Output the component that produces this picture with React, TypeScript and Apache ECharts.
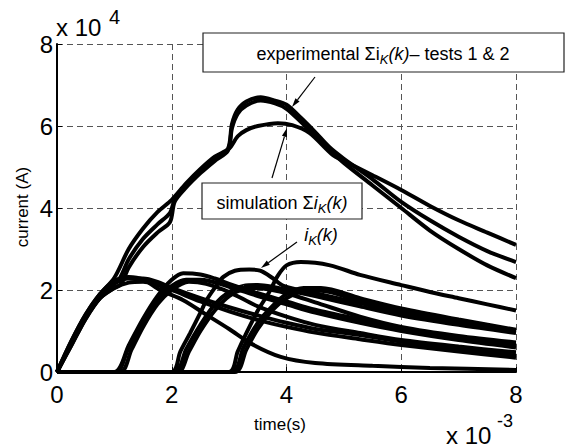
import React, { useEffect, useRef } from 'react';
import * as echarts from 'echarts';

// x in units of 1e-3 s, y in units of 1e4 A
const X_TICKS = [0, 2, 4, 6, 8];
const Y_TICKS = [0, 2, 4, 6, 8];

// Sum curves
const sumSim = [[0,0],[0.25,0.75],[0.5,1.4],[0.75,1.9],[1,2.3],[1.25,3.0],[1.5,3.5],[1.75,3.9],[2,4.2],[2.25,4.6],[2.5,4.95],[2.75,5.25],[3,5.45],[3.15,5.75],[3.3,5.9],[3.5,6.0],[3.85,6.07],[4.1,6.02],[4.4,5.83],[4.8,5.3],[5,5.15],[5.5,4.8],[6,4.44],[6.5,4.05],[7,3.7],[7.5,3.4],[8,3.1]];
const sumExp1 = [[0,0],[0.25,0.7],[0.5,1.35],[0.75,1.85],[1,2.2],[1.1,2.3],[1.25,2.75],[1.5,3.25],[1.75,3.6],[1.97,3.88],[2.05,4.2],[2.25,4.55],[2.5,4.9],[2.75,5.2],[2.98,5.45],[3.05,6.05],[3.15,6.4],[3.3,6.6],[3.55,6.7],[3.8,6.62],[4,6.52],[4.25,6.2],[4.5,5.85],[4.75,5.48],[5,5.2],[5.5,4.7],[6,4.15],[6.5,3.7],[7,3.3],[7.5,2.95],[8,2.68]];
const sumExp2 = [[0,0],[0.25,0.65],[0.5,1.3],[0.75,1.8],[1,2.05],[1.12,2.15],[1.25,2.55],[1.5,3.05],[1.75,3.4],[1.97,3.66],[2.05,4.15],[2.25,4.5],[2.5,4.85],[2.75,5.15],[2.98,5.4],[3.05,5.95],[3.15,6.3],[3.3,6.5],[3.55,6.62],[3.8,6.55],[4,6.42],[4.25,6.1],[4.5,5.75],[4.75,5.42],[5,5.1],[5.5,4.55],[6,4.0],[6.5,3.45],[7,3.0],[7.5,2.6],[8,2.29]];

// Individual i_K(k) curves
const g1a = [[0,0],[0.25,0.7],[0.5,1.35],[0.75,1.85],[1,2.15],[1.25,2.28],[1.5,2.28],[1.75,2.2],[2,2.05],[2.5,1.8],[3,1.58],[3.5,1.38],[4,1.2],[4.5,1.05],[5.28,0.9],[6,0.74],[7,0.56],[8,0.4]];
const g1b = [[0,0],[0.25,0.65],[0.5,1.3],[0.75,1.8],[1,2.05],[1.25,2.18],[1.5,2.2],[1.75,2.12],[2,2.0],[2.5,1.72],[3,1.48],[3.5,1.27],[4,1.1],[4.5,0.96],[5.28,0.8],[6,0.66],[7,0.5],[8,0.35]];
const g1sim = [[0,0],[0.25,0.75],[0.5,1.4],[0.75,1.9],[1,2.22],[1.25,2.32],[1.5,2.26],[1.8,2.0],[2.2,1.75],[2.6,1.4],[3,1.05],[3.4,0.68],[3.9,0.37],[4.5,0.22],[5.5,0.15],[6.5,0.1],[8,0.05]];
const g2a = [[0,0],[1,0],[1.25,0.65],[1.5,1.3],[1.75,1.85],[2,2.25],[2.2,2.41],[2.5,2.38],[2.75,2.28],[3,2.15],[3.5,1.92],[4,1.72],[4.5,1.52],[5.28,1.28],[6,1.07],[7,0.85],[8,0.66]];
const g2b = [[0,0],[1.02,0],[1.25,0.6],[1.5,1.2],[1.75,1.75],[2,2.1],[2.25,2.25],[2.5,2.25],[3,2.08],[3.5,1.85],[4,1.65],[4.5,1.45],[5.28,1.2],[6,1.0],[7,0.78],[8,0.6]];
const g2sim = [[0,0],[1.1,0],[1.3,0.55],[1.5,1.1],[1.75,1.65],[2,2.0],[2.3,2.2],[2.6,2.15],[3,1.95],[3.5,1.6],[4,1.35],[4.5,1.15],[5.28,0.95],[6,0.78],[7,0.62],[8,0.48]];
const g3a = [[0,0],[2.05,0],[2.25,0.55],[2.5,1.15],[2.75,1.65],[3,1.95],[3.25,2.1],[3.5,2.12],[3.75,2.08],[4,2.0],[4.5,1.85],[5.28,1.6],[6,1.38],[7,1.15],[8,0.95]];
const g3b = [[0,0],[2.1,0],[2.3,0.5],[2.5,1.0],[2.75,1.5],[3,1.85],[3.25,2.02],[3.5,2.05],[3.75,2.0],[4,1.92],[4.5,1.7],[5.28,1.35],[6,1.1],[7,0.88],[8,0.72]];
const g3sim = [[0,0],[2,0],[2.15,0.5],[2.32,0.95],[2.5,1.45],[2.61,1.76],[2.75,2.05],[2.9,2.32],[3.1,2.47],[3.35,2.5],[3.54,2.47],[3.75,2.3],[3.95,2.1],[4.5,1.92],[5.28,1.68],[6,1.45],[7,1.2],[8,1.0]];
const g4a = [[0,0],[3,0],[3.15,0.5],[3.3,0.95],[3.5,1.5],[3.7,1.95],[3.85,2.35],[4,2.6],[4.25,2.68],[4.76,2.6],[5.28,2.37],[6,2.12],[6.5,1.95],[7,1.8],[7.5,1.65],[8,1.5]];
const g4b = [[0,0],[3.05,0],[3.25,0.6],[3.5,1.2],[3.75,1.6],[4,1.9],[4.3,2.05],[4.6,2.05],[5.28,1.8],[6,1.55],[7,1.28],[8,1.03]];
const g4sim = [[0,0],[3.1,0],[3.3,0.55],[3.5,1.05],[3.75,1.5],[4,1.8],[4.3,1.97],[4.6,1.98],[5.28,1.72],[6,1.48],[7,1.22],[8,0.98]];

const curves = [sumSim, sumExp1, sumExp2, g1a, g1b, g1sim, g2a, g2b, g2sim, g3a, g3b, g3sim, g4a, g4b, g4sim];

const FONT = '"Liberation Sans", Arial, Helvetica, sans-serif';

function arrow(x1: number, y1: number, x2: number, y2: number) {
  const dx = x2 - x1, dy = y2 - y1;
  const L = Math.hypot(dx, dy);
  const ux = dx / L, uy = dy / L;
  const hl = 9, hw = 2.6;
  const bx = x2 - ux * hl, by = y2 - uy * hl;
  return [
    { type: 'line', z: 100, shape: { x1, y1, x2: bx, y2: by }, style: { stroke: '#000', lineWidth: 1.2 } },
    { type: 'polygon', z: 100, shape: { points: [[x2, y2], [bx - uy * hw, by + ux * hw], [bx + uy * hw, by - ux * hw]] }, style: { fill: '#000' } },
  ];
}

const rich = {
  n: { fontSize: 18, lineHeight: 24, fontFamily: FONT, color: '#000' },
  i: { fontSize: 18, lineHeight: 24, fontFamily: FONT, fontStyle: 'italic', color: '#000' },
  s: { fontSize: 13, lineHeight: 13, fontFamily: FONT, fontStyle: 'italic', color: '#000', verticalAlign: 'bottom' },
};

export default function App() {
  const ref = useRef<HTMLDivElement>(null);
  useEffect(() => {
    const chart = echarts.init(ref.current!, null, { renderer: 'svg' });
    const axisCommon = {
      type: 'value',
      min: 0,
      max: 8,
      interval: 2,
      axisLine: { show: true, onZero: false, lineStyle: { color: '#000', width: 2 } },
      axisTick: { show: true, inside: true, length: 5, lineStyle: { color: '#000', width: 1 } },
      splitLine: { show: true, lineStyle: { color: '#555', width: 1, type: [6, 4] } },
    };
    const option: any = {
      animation: false,
      backgroundColor: '#fff',
      textStyle: { fontFamily: FONT },
      grid: { left: 57, right: 49, top: 44, bottom: 75, containLabel: false },
      xAxis: {
        ...axisCommon,
        axisLabel: { fontSize: 24, color: '#000', margin: 10, fontFamily: FONT, formatter: (v: number) => (X_TICKS.includes(v) ? String(v) : '') },
      },
      yAxis: {
        ...axisCommon,
        axisLabel: { fontSize: 24, color: '#000', margin: 4, fontFamily: FONT, formatter: (v: number) => (Y_TICKS.includes(v) ? String(v) : '') },
      },
      series: curves.map((d) => ({
        type: 'line',
        data: d,
        showSymbol: false,
        smooth: 0.3,
        lineStyle: { color: '#000', width: 4 },
        itemStyle: { color: '#000' },
        silent: true,
      })),
      graphic: [
        // exponent labels
        { type: 'text', z: 100, style: { x: 56, y: 27.5, text: 'x 10', fontSize: 24, fontFamily: FONT, fill: '#000', align: 'left', verticalAlign: 'middle' } },
        { type: 'text', z: 100, style: { x: 109, y: 17, text: '4', fontSize: 20, fontFamily: FONT, fill: '#000', align: 'left', verticalAlign: 'middle' } },
        { type: 'text', z: 100, style: { x: 446, y: 435, text: 'x 10', fontSize: 24, fontFamily: FONT, fill: '#000', align: 'left', verticalAlign: 'middle' } },
        { type: 'text', z: 100, style: { x: 497, y: 421, text: '-3', fontSize: 18, fontFamily: FONT, fill: '#000', align: 'left', verticalAlign: 'middle' } },
        // axis names
        { type: 'text', z: 100, style: { x: 280, y: 424, text: 'time(s)', fontSize: 17, fontFamily: FONT, fill: '#000', align: 'center', verticalAlign: 'middle' } },
        { type: 'text', z: 100, x: 22, y: 207, rotation: Math.PI / 2, style: { x: 0, y: 0, text: 'current (A)', fontSize: 17, fontFamily: FONT, fill: '#000', align: 'center', verticalAlign: 'middle' } },
        // experimental box
        { type: 'rect', z: 99, shape: { x: 203, y: 33, width: 361, height: 39 }, style: { fill: '#fff', stroke: '#222', lineWidth: 1.2 } },
        { type: 'text', z: 100, style: { x: 383, y: 54, text: '{n|experimental Σi}{s|K}{i|(k)}{n|– tests 1 & 2}', rich, align: 'center', verticalAlign: 'middle' } },
        // simulation box
        { type: 'rect', z: 99, shape: { x: 202, y: 183, width: 160, height: 36 }, style: { fill: '#fff', stroke: '#222', lineWidth: 1.2 } },
        { type: 'text', z: 100, style: { x: 282, y: 203, text: '{n|simulation Σ}{i|i}{s|K}{i|(k)}', rich, align: 'center', verticalAlign: 'middle' } },
        // i_K(k) label
        { type: 'text', z: 100, style: { x: 321, y: 235, text: '{i|i}{s|K}{i|(k)}', rich, align: 'center', verticalAlign: 'middle' } },
        ...arrow(315, 77, 292, 107),
        ...arrow(272, 178, 287, 128),
        ...arrow(297, 242, 261, 268),
      ],
    };
    chart.setOption(option);
    return () => chart.dispose();
  }, []);
  return <div ref={ref} style={{ position: 'absolute', left: 0, top: 0, width: 565, height: 447, background: '#fff' }} />;
}
